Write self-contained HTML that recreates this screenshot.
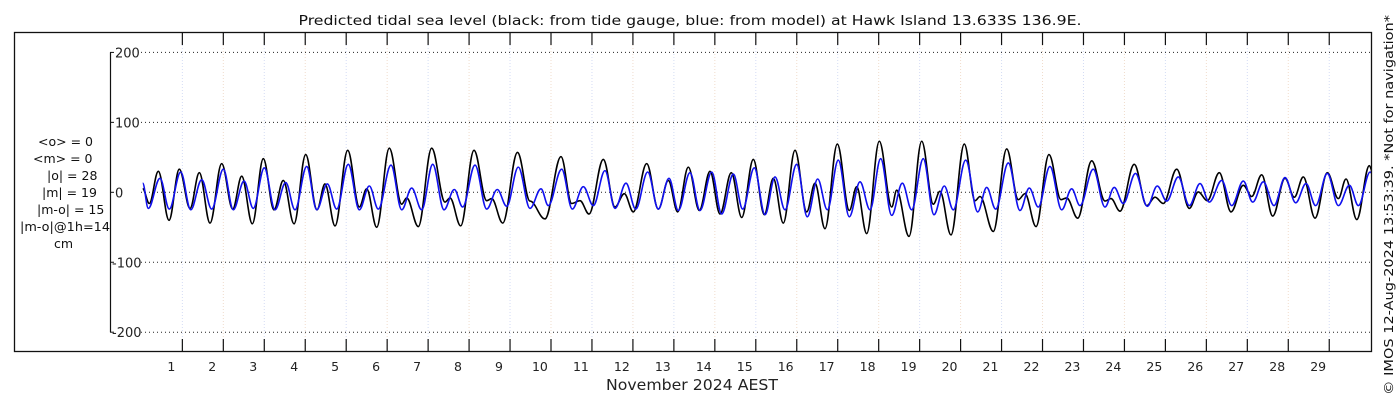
<!DOCTYPE html>
<html><head><meta charset="utf-8"><style>
html,body{margin:0;padding:0;background:#fff;}
svg{display:block;font-family:"DejaVu Sans","Liberation Sans",sans-serif;}
</style></head><body>
<svg id="chart" width="1400" height="400" viewBox="0 0 1400 400" xmlns="http://www.w3.org/2000/svg">
<rect x="0" y="0" width="1400" height="400" fill="#fff"/>
<text x="690" y="25" font-size="13.2" text-anchor="middle" fill="#111" textLength="783" lengthAdjust="spacingAndGlyphs">Predicted tidal sea level (black: from tide gauge, blue: from model) at Hawk Island 13.633S 136.9E.</text>
<g id="grid"></g>
<defs><clipPath id="plotclip"><rect x="111" y="33" width="1260" height="318"/></clipPath></defs>
<g id="series" clip-path="url(#plotclip)"></g>
<rect x="14.5" y="32.5" width="1357" height="319" fill="none" stroke="#111" stroke-width="1.3"/>
<g id="axes"></g>
<g font-size="12.5" fill="#111">
<text x="38" y="146">&lt;o&gt; = 0</text>
<text x="33" y="163">&lt;m&gt; = 0</text>
<text x="47" y="180">|o| = 28</text>
<text x="42" y="197">|m| = 19</text>
<text x="37" y="214">|m-o| = 15</text>
<text x="20" y="231" textLength="90" lengthAdjust="spacingAndGlyphs">|m-o|@1h=14</text>
<text x="54" y="248">cm</text>
</g>
<text x="692" y="390" font-size="15" text-anchor="middle" fill="#222" textLength="172" lengthAdjust="spacingAndGlyphs">November 2024 AEST</text>
<text transform="translate(1393,205) rotate(-90)" font-size="12" text-anchor="middle" fill="#111" textLength="380" lengthAdjust="spacingAndGlyphs">© IMOS 12-Aug-2024 13:53:39. *Not for navigation*</text>
</svg>
<script>
const yTicks = [200, 100, 0, -100, -200];
const dayLabels = [1,2,3,4,5,6,7,8,9,10,11,12,13,14,15,16,17,18,19,20,21,22,23,24,25,26,27,28,29];
const obsTimes = [0.302,0.463,0.683,0.944,1.195,1.457,1.684,1.945,2.230,2.499,2.719,2.978,3.246,3.507,3.734,3.996,4.281,4.557,4.752,4.997,5.307,5.590,5.770,6.015,6.322,6.625,6.747,7.030,7.357,7.682,7.804,8.065,8.390,8.700,8.822,9.091,9.452,9.757,10.123,10.514,10.775,10.978,11.198,11.547,11.833,12.060,12.279,12.606,12.890,13.134,13.363,13.622,13.891,14.152,14.396,14.672,14.926,15.209,15.478,15.697,15.941,16.227,16.513,16.715,16.959,17.260,17.553,17.733,17.977,18.285,18.588,18.710,19.010,19.320,19.603,19.766,20.035,20.360,20.622,20.744,21.068,21.395,21.679,21.842,22.111,22.428,22.721,22.860,23.129,23.471,23.796,23.942,24.162,24.509,24.814,25.017,25.219,25.546,25.854,26.073,26.293,26.586,26.872,27.172,27.377,27.621,27.890,28.190,28.417,28.637,28.923,29.223,29.493,29.680,29.942,30.249,30.340];
const obsValues = [5,-16,30,-40,33,-23,28,-44,41,-24,23,-45,48,-25,17,-45,54,-25,12,-48,60,-21,5,-50,63,-17,-8,-49,63,-14,-8,-48,60,-12,-9,-44,57,-12.5,-38,51,-16,-12,-31,47,-21,-2,-28,41,-24,17,-28,36,-26,30,-31,28,-36,47,-32,20,-44,60,-28,13,-52,69,-26,8,-59,73,-21,3,-63,73,-17,1.5,-61,69,-12,-6,-56,62,-10.5,-2,-49,54,-10.5,-8,-37,45,-12.5,-9,-27,40,-19,-7,-16,33,-23,0.5,-12,28,-28,10,-6,25,-34,20,-7,22,-37,28,-9,19,-39,38,27];
const modTimes = [0.302,0.438,0.724,0.951,1.229,1.474,1.742,1.986,2.270,2.514,2.775,3.002,3.271,3.532,3.793,4.020,4.306,4.550,4.809,5.038,5.321,5.590,5.834,6.054,6.364,6.625,6.869,7.113,7.382,7.658,7.909,8.114,8.415,8.700,8.959,9.188,9.472,9.757,10.026,10.204,10.531,10.790,11.059,11.303,11.588,11.833,12.101,12.338,12.631,12.890,13.151,13.378,13.663,13.908,14.193,14.437,14.721,14.950,15.233,15.495,15.739,15.983,16.268,16.527,16.781,17.016,17.284,17.553,17.814,18.058,18.319,18.588,18.847,19.076,19.359,19.620,19.872,20.092,20.395,20.688,20.907,21.127,21.435,21.720,21.947,22.167,22.452,22.738,22.982,23.185,23.509,23.794,24.021,24.242,24.540,24.828,25.072,25.302,25.585,25.854,26.115,26.342,26.645,26.889,27.172,27.402,27.661,27.922,28.190,28.452,28.703,28.938,29.223,29.493,29.762,29.982,30.268,30.349];
const modValues = [13,-23,20,-24,29,-25,18,-24,33,-25,16,-23,35,-25,14,-25,37,-25,12,-24,40,-25,9,-24,39,-25,6,-25,40,-25,4,-21,39,-24,4,-20,36,-23,5,-19,33,-24,8,-19,31,-23,13,-24,29,-24,20,-26,28,-26,29,-31,26,-24,35,-32,22,-25,40,-35,19,-25,46,-35,15,-25,48,-33,13,-25,48,-32,9,-25,46,-28,7,-24,42,-26,6,-21,37,-25,5,-19,33,-21,7,-16,27,-20,9,-12.5,22,-19,12.5,-14,17,-19,16,-14,15,-19,21,-15,12.5,-19,27,-19,10,-19,29,24];

const NS = "http://www.w3.org/2000/svg";
const DAY = 40.96, X1 = 171.3;
const Y0 = 192.3, YS = 0.6995;
function xs(t){ return X1 + (t - 1) * DAY; }
function ys(v){ return Y0 - v * YS; }
function mk(tag, attrs, parent){
  const el = document.createElementNS(NS, tag);
  for (const k in attrs) el.setAttribute(k, attrs[k]);
  parent.appendChild(el);
  return el;
}
const grid = document.getElementById('grid');
const axes = document.getElementById('axes');
const series = document.getElementById('series');

for (let k = 0; k < dayLabels.length; k++) {
  const x = xs(dayLabels[k] + 0.27);
  const g = mk('line', {x1:x, y1:33, x2:x, y2:351, stroke: k%2 ? '#f0dccc' : '#d4dcf4', 'stroke-width':1, 'stroke-dasharray':'1,2'}, grid);
  
  
  const t1 = mk('line', {x1:x, y1:33, x2:x, y2:45, stroke:'#111', 'stroke-width':1.2}, axes);
  
  
  const t2 = mk('line', {x1:x, y1:339, x2:x, y2:351, stroke:'#111', 'stroke-width':1.2}, axes);
  
  
}
dayLabels.forEach(d => {
  const t = mk('text', {x:xs(d), y:371, 'font-size':12.5, 'text-anchor':'middle', fill:'#222'}, axes);
  t.textContent = d;
  
  
});
const yl = mk('line', {x1:110.5, y1:ys(200), x2:110.5, y2:ys(-200), stroke:'#111', 'stroke-width':1.2}, axes);


yTicks.forEach(v => {
  const y = ys(v);
  const gl = mk('line', {x1:141, y1:y, x2:1371, y2:y, stroke:'#222', 'stroke-width':1, 'stroke-dasharray':'1,3'}, grid);
  
  
  const tk = mk('line', {x1:110, y1:y, x2:114, y2:y, stroke:'#111', 'stroke-width':1}, axes);
  
  
  const lb = mk('text', {x: v < 0 ? 112 : 115, y:y+5, 'font-size':13, fill:'#222'}, axes);
  lb.textContent = v;
  
  
});
function pathFor(times, vals){
  let d = 'M' + xs(times[0]).toFixed(2) + ' ' + ys(vals[0]).toFixed(2);
  for (let i = 1; i < times.length; i++) {
    const x0 = xs(times[i-1]), y0 = ys(vals[i-1]);
    const x1 = xs(times[i]), y1 = ys(vals[i]);
    const dx = (x1 - x0) * 0.364;
    d += ' C' + (x0+dx).toFixed(2) + ' ' + y0.toFixed(2) + ' ' + (x1-dx).toFixed(2) + ' ' + y1.toFixed(2) + ' ' + x1.toFixed(2) + ' ' + y1.toFixed(2);
  }
  return d;
}
const obs = mk('path', {d:pathFor(obsTimes, obsValues), fill:'none', stroke:'#000', 'stroke-width':1.6}, series);


const mod = mk('path', {d:pathFor(modTimes, modValues), fill:'none', stroke:'#1010ee', 'stroke-width':1.6}, series);


</script>
</body></html>
